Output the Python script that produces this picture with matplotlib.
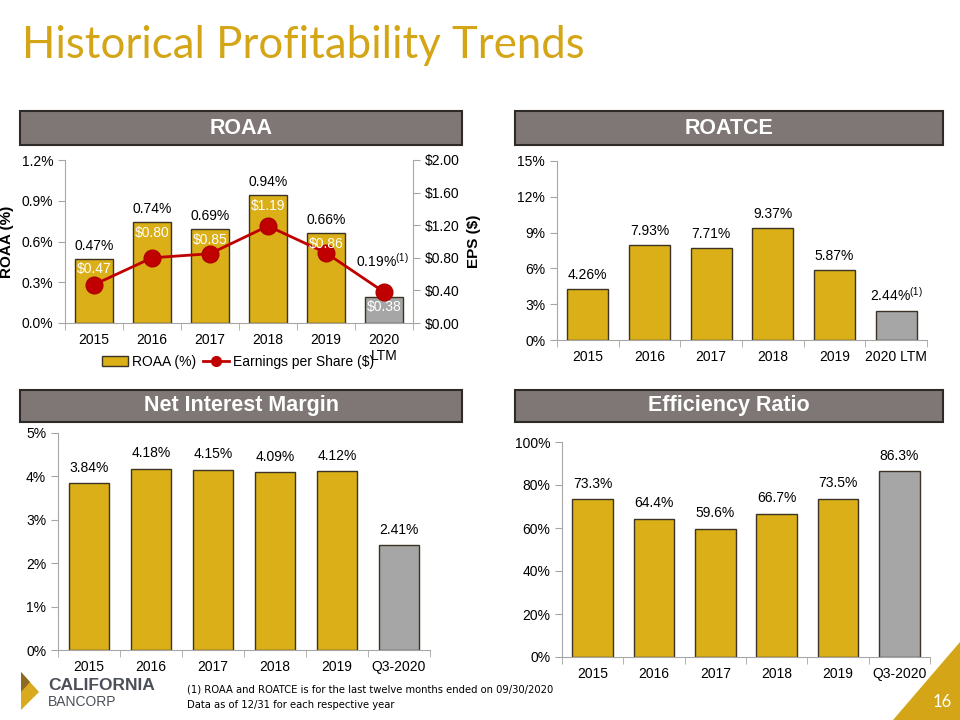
import numpy as np
import matplotlib.pyplot as plt
from matplotlib.patches import Rectangle, Polygon, Patch
from matplotlib.lines import Line2D

plt.rcParams['font.family'] = ['Liberation Sans', 'DejaVu Sans']

# data
years = ['2015', '2016', '2017', '2018', '2019', '2020\nLTM']
roaa = [0.47, 0.74, 0.69, 0.94, 0.66, 0.19]
eps = [0.47, 0.80, 0.85, 1.19, 0.86, 0.38]
roatce_years = ['2015', '2016', '2017', '2018', '2019', '2020 LTM']
roatce = [4.26, 7.93, 7.71, 9.37, 5.87, 2.44]
nim_years = ['2015', '2016', '2017', '2018', '2019', 'Q3-2020']
nim = [3.84, 4.18, 4.15, 4.09, 4.12, 2.41]
eff_years = ['2015', '2016', '2017', '2018', '2019', 'Q3-2020']
eff = [73.3, 64.4, 59.6, 66.7, 73.5, 86.3]

GOLD = '#DAAF17'
GRAY = '#A6A6A6'
EDGE = '#3b3426'
AXC = '#A6A6A6'

W, H = 960, 720
fig = plt.figure(figsize=(9.6, 7.2), dpi=100)


def px(l, t, r, b):
    return [l / W, 1 - b / H, (r - l) / W, (b - t) / H]


def banner(l, t, r, b, txt):
    fig.patches.append(Rectangle((l / W, 1 - b / H), (r - l) / W, (b - t) / H,
                                 transform=fig.transFigure, facecolor='#7E7775',
                                 edgecolor='#2e2a28', linewidth=1.5))
    fig.text((l + r) / 2 / W, 1 - (t + b) / 2 / H, txt, color='white',
             fontsize=15.5, fontweight='bold', ha='center', va='center')


def style(ax, cats, ymax, step, fmt):
    n = len(cats)
    ax.set_xlim(-0.5, n - 0.5)
    ax.set_ylim(0, ymax)
    ax.set_yticks(np.arange(0, ymax + step / 2, step))
    ax.set_yticklabels([fmt(v) for v in np.arange(0, ymax + step / 2, step)])
    ax.set_xticks(range(n))
    ax.set_xticklabels(cats)
    ax.set_xticks(np.arange(-0.5, n, 1), minor=True)
    ax.tick_params(axis='x', which='major', length=0, pad=7, labelsize=10)
    ax.tick_params(axis='x', which='minor', length=5, color=AXC, direction='out')
    ax.tick_params(axis='y', length=5, color=AXC, labelsize=10)
    for s in ['top', 'right']:
        ax.spines[s].set_visible(False)
    for s in ['left', 'bottom']:
        ax.spines[s].set_color(AXC)
    ax.set_facecolor('none')


def bars(ax, vals, labels, ymax):
    cols = [GOLD] * (len(vals) - 1) + [GRAY]
    ax.bar(range(len(vals)), vals, width=0.66, color=cols, edgecolor=EDGE, linewidth=1)
    for i, (v, lab) in enumerate(zip(vals, labels)):
        ax.text(i, v + ymax * 0.04, lab, ha='center', va='bottom', fontsize=10)


# title
fig.text(22 / W, 1 - 45 / H, 'Historical Profitability Trends', color='#D4A617',
         fontsize=31.5, ha='left', va='center', family=['Lato', 'DejaVu Sans'])

banner(20, 111, 462, 145, 'ROAA')
banner(515, 111, 943, 145, 'ROATCE')
banner(20, 390, 462, 422, 'Net Interest Margin')
banner(515, 390, 943, 422, 'Efficiency Ratio')

# ROAA
ax1 = fig.add_axes(px(65, 160, 413, 323))
style(ax1, years, 1.2, 0.3, lambda v: '%.1f%%' % v)
roaa_lab = ['%.2f%%' % v for v in roaa]
roaa_lab[-1] = r'0.19%$^{\mathregular{(1)}}$'
bars(ax1, roaa, roaa_lab, 1.2)
ax1.texts[-1].set_position((4.98, roaa[-1] + 0.2))
ax1.set_ylabel('ROAA (%)', fontsize=11, fontweight='bold')
ax1.yaxis.set_label_coords((14 - 65) / 348, 0.5)
ax2 = ax1.twinx()
ax2.set_ylim(0, 2.0)
ax2.set_yticks(np.arange(0, 2.01, 0.4))
ax2.set_yticklabels(['$%.2f' % v for v in np.arange(0, 2.01, 0.4)])
ax2.tick_params(axis='y', length=5, color=AXC, labelsize=10)
for s in ['top', 'left', 'bottom']:
    ax2.spines[s].set_visible(False)
ax2.spines['right'].set_color(AXC)
ax2.plot(range(len(eps)), eps, color='#C00000', lw=2, marker='o', ms=12,
         markeredgecolor='#B00000')
ax2.set_ylabel('EPS ($)', fontsize=11, fontweight='bold')
ax2.yaxis.set_label_coords((467 - 65) / 348, 0.5)
for i, v in enumerate(eps):
    top = roaa[i] / 1.2 * 2.0
    ax2.text(i, top - 0.04, '$%.2f' % v, ha='center', va='top', color='white', fontsize=10)
# legend
h = [Patch(facecolor=GOLD, edgecolor=EDGE, label='ROAA (%)'),
     Line2D([0], [0], color='#C00000', lw=2, marker='o', ms=7, label='Earnings per Share ($)')]
fig.legend(handles=h, loc='center', bbox_to_anchor=(238 / W, 1 - 362 / H), ncol=2,
           frameon=False, fontsize=10, handlelength=1.9, columnspacing=0.5,
           handletextpad=0.25, borderpad=0)

# ROATCE
ax3 = fig.add_axes(px(557, 161, 927, 340))
style(ax3, roatce_years, 15, 3, lambda v: '%d%%' % v)
lab = ['%.2f%%' % v for v in roatce]
lab[-1] = r'2.44%$^{\mathregular{(1)}}$'
bars(ax3, roatce, lab, 15)

# NIM
ax4 = fig.add_axes(px(58, 433, 430, 650))
style(ax4, nim_years, 5, 1, lambda v: '%d%%' % v)
bars(ax4, nim, ['%.2f%%' % v for v in nim], 5)

# Efficiency
ax5 = fig.add_axes(px(562, 442, 930, 657))
style(ax5, eff_years, 100, 20, lambda v: '%d%%' % v)
bars(ax5, eff, ['%.1f%%' % v for v in eff], 100)

# logo
fig.patches.append(Polygon([(21 / W, 1 - 672 / H), (39 / W, 1 - 692 / H), (21 / W, 1 - 710 / H)],
                           closed=True, transform=fig.transFigure, facecolor='#D9A920',
                           edgecolor='none'))
fig.patches.append(Polygon([(21 / W, 1 - 672 / H), (30 / W, 1 - 682 / H), (21 / W, 1 - 692 / H)],
                           closed=True, transform=fig.transFigure, facecolor='#8C6A22',
                           edgecolor='none'))
fig.text(48 / W, 1 - 685 / H, 'CALIFORNIA', color='#4B4F57', fontsize=12.5,
         fontweight='bold', ha='left', va='center')
fig.text(48 / W, 1 - 702 / H, 'BANCORP', color='#4B4F57', fontsize=10,
         ha='left', va='center')

# footnote
fig.text(187 / W, 1 - 690 / H, '(1) ROAA and ROATCE is for the last twelve months ended on 09/30/2020',
         fontsize=8, ha='left', va='center', family='DejaVu Sans', fontstretch='condensed')
fig.text(187 / W, 1 - 705 / H, 'Data as of 12/31 for each respective year',
         fontsize=8, ha='left', va='center', family='DejaVu Sans', fontstretch='condensed')

# page number
fig.patches.append(Polygon([(893 / W, 0), (1, 1 - 642 / H), (1, 0)], closed=True,
                           transform=fig.transFigure, facecolor='#D4A617', edgecolor='none'))
fig.text(942 / W, 1 - 702 / H, '16', color='white', fontsize=12, ha='center', va='center',
         family=['Lato', 'DejaVu Sans'])

fig.savefig('out.png', dpi=100)
